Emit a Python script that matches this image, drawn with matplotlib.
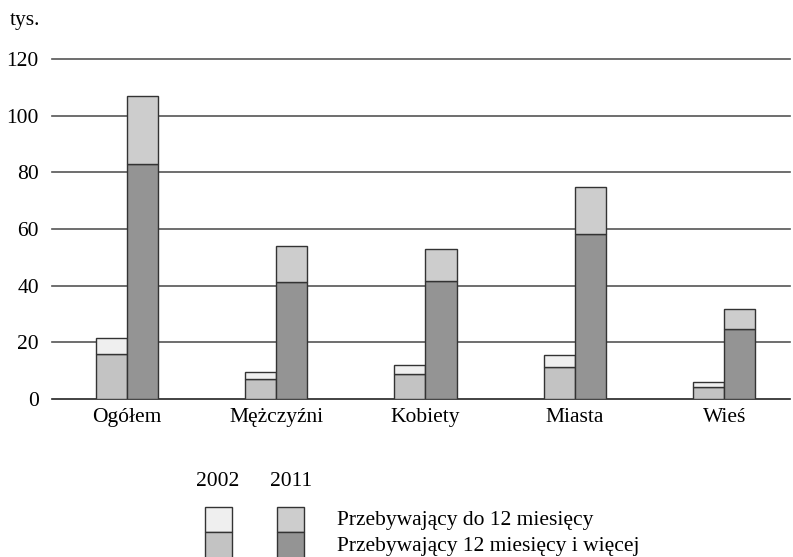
import matplotlib
matplotlib.use("Agg")
import matplotlib.pyplot as plt
from matplotlib.patches import Rectangle
import numpy as np

plt.rcParams['font.family'] = ['Liberation Serif', 'DejaVu Serif']

categories = ["Ogółem", "Mężczyźni", "Kobiety", "Miasta", "Wieś"]
# 12 months and more (lower part)
long_2002 = [15.9, 7.0, 9.0, 11.4, 4.2]
long_2011 = [83.0, 41.4, 41.7, 58.3, 24.6]
# up to 12 months (upper part)
short_2002 = [5.5, 2.5, 3.0, 4.1, 1.7]
short_2011 = [23.8, 12.6, 11.2, 16.7, 7.0]

years = ["2002", "2011"]
series_labels = ["Przebywający do 12 miesięcy", "Przebywający 12 miesięcy i więcej"]
yticks = [0, 20, 40, 60, 80, 100, 120]

c02_short, c02_long = "#efefef", "#c3c3c3"
c11_short, c11_long = "#cdcdcd", "#949494"
edge = "#333333"

FS = 15.5
W, H = 793, 557
fig = plt.figure(figsize=(W/100, H/100), dpi=100)
ax = fig.add_axes([52/W, 1-399/H, (790-52)/W, (399-59)/H])

x = np.arange(len(categories))
bw = 0.208
lw = 1.0
ax.bar(x - bw/2, long_2002, bw, color=c02_long, edgecolor=edge, linewidth=lw, zorder=3)
ax.bar(x - bw/2, short_2002, bw, bottom=long_2002, color=c02_short, edgecolor=edge, linewidth=lw, zorder=3)
ax.bar(x + bw/2, long_2011, bw, color=c11_long, edgecolor=edge, linewidth=lw, zorder=3)
ax.bar(x + bw/2, short_2011, bw, bottom=long_2011, color=c11_short, edgecolor=edge, linewidth=lw, zorder=3)

ax.set_xlim(-0.5, 4.44)
ax.set_ylim(0, 120)
ax.set_yticks(yticks)
ax.set_yticklabels([str(t) for t in yticks], fontsize=FS)
ax.set_xticks(x)
ax.set_xticklabels(categories, fontsize=FS)
ax.tick_params(axis='y', length=0, pad=9.5)
ax.tick_params(axis='x', length=0, pad=6.5)
for t in yticks:
    ax.axhline(t, color="#555555" if t else "#222222", linewidth=1.2, zorder=1, clip_on=False)
for s in ax.spines.values():
    s.set_visible(False)

fig.text(10/W, 1-21/H, "tys.", fontsize=FS, va="center", ha="left")

# legend
fig.text(218/W, 1-481/H, years[0], fontsize=FS, ha="center", va="center")
fig.text(291/W, 1-481/H, years[1], fontsize=FS, ha="center", va="center")
def rect(x0, y0, x1, y1, col):
    fig.patches.append(Rectangle((x0/W, 1-y1/H), (x1-x0)/W, (y1-y0)/H,
                                 transform=fig.transFigure, facecolor=col,
                                 edgecolor=edge, linewidth=1.0))
rect(205, 507, 232, 532, c02_short)
rect(205, 532, 232, 560, c02_long)
rect(277, 507, 304, 532, c11_short)
rect(277, 532, 304, 560, c11_long)
fig.text(337/W, 1-520/H, series_labels[0], fontsize=FS, ha="left", va="center")
fig.text(337/W, 1-547/H, series_labels[1], fontsize=FS, ha="left", va="center")

fig.savefig("out.png", dpi=100)
